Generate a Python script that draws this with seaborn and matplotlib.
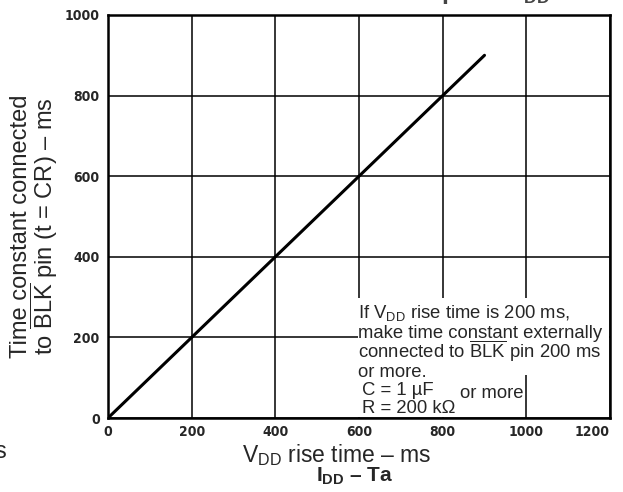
import numpy as np
import pandas as pd
import matplotlib
matplotlib.use("Agg")
import matplotlib.pyplot as plt
import matplotlib.patches as mpatches
import seaborn as sns

# values
rise_time = [0, 200, 400, 600, 800, 900]
time_const = [0, 200, 400, 600, 800, 900]
xticks = [0, 200, 400, 600, 800, 1000, 1200]
yticks = [0, 200, 400, 600, 800, 1000]

sns.set_theme(style="white")
plt.rcParams["font.family"] = ["Liberation Sans", "DejaVu Sans"]
plt.rcParams["mathtext.fontset"] = "custom"
plt.rcParams["mathtext.rm"] = "Liberation Sans"
plt.rcParams["mathtext.it"] = "Liberation Sans:italic"
plt.rcParams["mathtext.bf"] = "Liberation Sans:bold"

W, H = 623, 492
def px(x, y):
    return x / W, 1 - y / H

df = pd.DataFrame({"t": rise_time, "tc": time_const})

fig = plt.figure(figsize=(6.23, 4.92), dpi=100)
ax = fig.add_axes([108/W, 1-418/H, 502/W, 403/H])

sns.lineplot(data=df, x="t", y="tc", ax=ax, color="black", lw=2.2, zorder=5)

ax.set_xlim(0, 1200)
ax.set_ylim(0, 1000)
ax.set_xticks(xticks)
ax.set_yticks(yticks)
ax.grid(True, color="black", lw=1.1)
for s in ax.spines.values():
    s.set_color("black")
    s.set_linewidth(1.8)
ax.tick_params(length=0)
ax.tick_params(axis="x", pad=5)
ax.tick_params(axis="y", pad=6)
ax.set_xticklabels([str(v) for v in xticks], fontsize=10, fontweight="bold",
                   family="DejaVu Sans", stretch="condensed")
ax.set_yticklabels([str(v) for v in yticks], fontsize=10, fontweight="bold",
                   family="DejaVu Sans", stretch="condensed")
ax.get_xticklabels()[-1].set_ha("right")
ax.set_xlabel("")
ax.set_ylabel("")

fig.text(*px(337, 455), r"V$_{\rm DD}$ rise time – ms", fontsize=16.5,
         ha="center", va="center")
fig.text(*px(35, 226), "Time constant connected\n" + r"to $\overline{\rm BLK}$ pin (t = CR) – ms",
         fontsize=17, rotation=90, ha="center", va="center", linespacing=0.88)

# white note box over the grid
ax.add_patch(mpatches.Rectangle(((358-108)/502, (418-375)/403), (609-358)/502, (375-298)/403,
                                transform=ax.transAxes, facecolor="white", edgecolor="none", zorder=3))
ax.add_patch(mpatches.Rectangle(((358-108)/502, 0.003), (524-358)/502, (418-373)/403,
                                transform=ax.transAxes, facecolor="white", edgecolor="none", zorder=3))

note_lines = [r"If V$_{\rm DD}$ rise time is 200 ms,",
              "make time constant externally",
              r"connected to $\overline{\rm BLK}$ pin 200 ms",
              "or more."]
for line, yb in zip(note_lines, [318, 338, 358, 377]):
    fig.text(*px(358, yb), line, fontsize=13.3, ha="left", va="baseline", zorder=6)
fig.text(*px(362, 395), "C = 1 µF", fontsize=13.3, ha="left", va="baseline", zorder=6)
fig.text(*px(362, 413), "R = 200 kΩ", fontsize=13.3, ha="left", va="baseline", zorder=6)
fig.text(*px(460, 398), "or more", fontsize=13.3, ha="left", va="baseline", zorder=6)

fig.text(*px(355, 482), r"$\mathbf{I}_\mathbf{DD}$ – Ta", fontsize=15,
         fontweight="bold", ha="center", va="baseline")
fig.text(*px(6, 458), "s", fontsize=17, ha="right", va="baseline")

# cropped heading of the datasheet page (only its lower edge is on the scan)
fig.text(*px(479, 0), r"Time constant connected to $\overline{\mathbf{BLK}}$ pin",
         fontsize=18, fontweight="bold", ha="right", va="baseline", color="#444444")
fig.text(*px(486, 0), r"– V$_\mathbf{DD}$ rise time",
         fontsize=18, fontweight="bold", ha="left", va="baseline", color="#444444")

fig.savefig("out.png", dpi=100)
